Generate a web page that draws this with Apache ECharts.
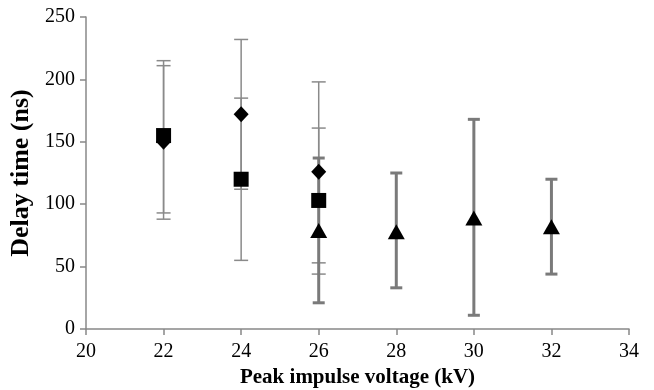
<!DOCTYPE html>
<html>
<head>
<meta charset="utf-8">
<script src="https://cdn.jsdelivr.net/npm/echarts@6/dist/echarts.min.js"></script>
<style>html,body{margin:0;padding:0;background:#fff;}#c{width:654px;height:390px;}</style>
</head>
<body>
<div id="c"></div>
<script>
// Diamond series
var diamondX = [22, 24, 26];
var diamondY = [150, 172, 126];
var diamondLow = [88, 112, 53];
var diamondHigh = [211, 232, 198];
// Square series
var squareX = [22, 24, 26];
var squareY = [155, 120, 103];
var squareLow = [93, 55, 44];
var squareHigh = [215, 185, 161];
// Triangle series
var triX = [26, 28, 30, 32];
var triY = [79, 78, 89, 82];
var triLow = [21, 33, 11, 44];
var triHigh = [137, 125, 168, 120];

var xTicks = [20, 22, 24, 26, 28, 30, 32, 34];
var yTicks = [0, 50, 100, 150, 200, 250];

function zip(xs, ys) { return xs.map(function (x, i) { return [x, ys[i]]; }); }
function zipErr(xs, lo, hi) { return xs.map(function (x, i) { return [x, lo[i], hi[i]]; }); }

function errRender(capHalf, lw, color) {
  return function (params, api) {
    var x = api.value(0);
    var lo = api.coord([x, api.value(1)]);
    var hi = api.coord([x, api.value(2)]);
    var st = { stroke: color, lineWidth: lw };
    return {
      type: 'group',
      children: [
        { type: 'line', shape: { x1: lo[0], y1: lo[1], x2: hi[0], y2: hi[1] }, style: st },
        { type: 'line', shape: { x1: lo[0] - capHalf, y1: lo[1], x2: lo[0] + capHalf, y2: lo[1] }, style: st },
        { type: 'line', shape: { x1: hi[0] - capHalf, y1: hi[1], x2: hi[0] + capHalf, y2: hi[1] }, style: st }
      ]
    };
  };
}

var font = 'Liberation Serif';
var chart = echarts.init(document.getElementById('c'));
chart.setOption({
  backgroundColor: '#fff',
  animation: false,
  grid: { left: 86, right: 25, top: 17, bottom: 61, containLabel: false, outerBoundsMode: 'none' },
  xAxis: {
    type: 'value', min: 20, max: 34, interval: 2,
    name: 'Peak impulse voltage (kV)', nameLocation: 'middle', nameGap: 26,
    nameTextStyle: { fontFamily: font, fontWeight: 'bold', fontSize: 21, color: '#000' },
    axisLine: { show: true, lineStyle: { color: '#888', width: 1.5 } },
    axisTick: { show: true, length: 6, lineStyle: { color: '#888', width: 1.5 } },
    axisLabel: { fontFamily: font, fontSize: 20, color: '#000', margin: 13,
      formatter: function (v) { return xTicks.indexOf(v) >= 0 ? String(v) : ''; } },
    splitLine: { show: false }
  },
  yAxis: {
    type: 'value', min: 0, max: 250, interval: 50,
    name: 'Delay time (ns)', nameLocation: 'middle', nameGap: 45, nameRotate: 90,
    nameTextStyle: { fontFamily: font, fontWeight: 'bold', fontSize: 26, color: '#000' },
    axisLine: { show: true, lineStyle: { color: '#888', width: 1.5 } },
    axisTick: { show: true, length: 6, lineStyle: { color: '#888', width: 1.5 } },
    axisLabel: { fontFamily: font, fontSize: 20, color: '#000', margin: 11,
      formatter: function (v) { return yTicks.indexOf(v) >= 0 ? String(v) : ''; } },
    splitLine: { show: false }
  },
  series: [
    { type: 'custom', data: zipErr(diamondX, diamondLow, diamondHigh), renderItem: errRender(7, 1.5, '#8a8a8a'), z: 1 },
    { type: 'custom', data: zipErr(squareX, squareLow, squareHigh), renderItem: errRender(7, 1.5, '#8a8a8a'), z: 1 },
    { type: 'custom', data: zipErr(triX, triLow, triHigh), renderItem: errRender(6, 3, '#7a7a7a'), z: 1 },
    { type: 'scatter', data: zip(diamondX, diamondY), symbol: 'diamond', symbolSize: [15, 16], itemStyle: { color: '#000', opacity: 1 }, z: 3 },
    { type: 'scatter', data: zip(squareX, squareY), symbol: 'rect', symbolSize: 15, itemStyle: { color: '#000', opacity: 1 }, z: 4 },
    { type: 'scatter', data: zip(triX, triY), symbol: 'triangle', symbolSize: [17, 15], itemStyle: { color: '#000', opacity: 1 }, z: 3 }
  ]
});
</script>
</body>
</html>
